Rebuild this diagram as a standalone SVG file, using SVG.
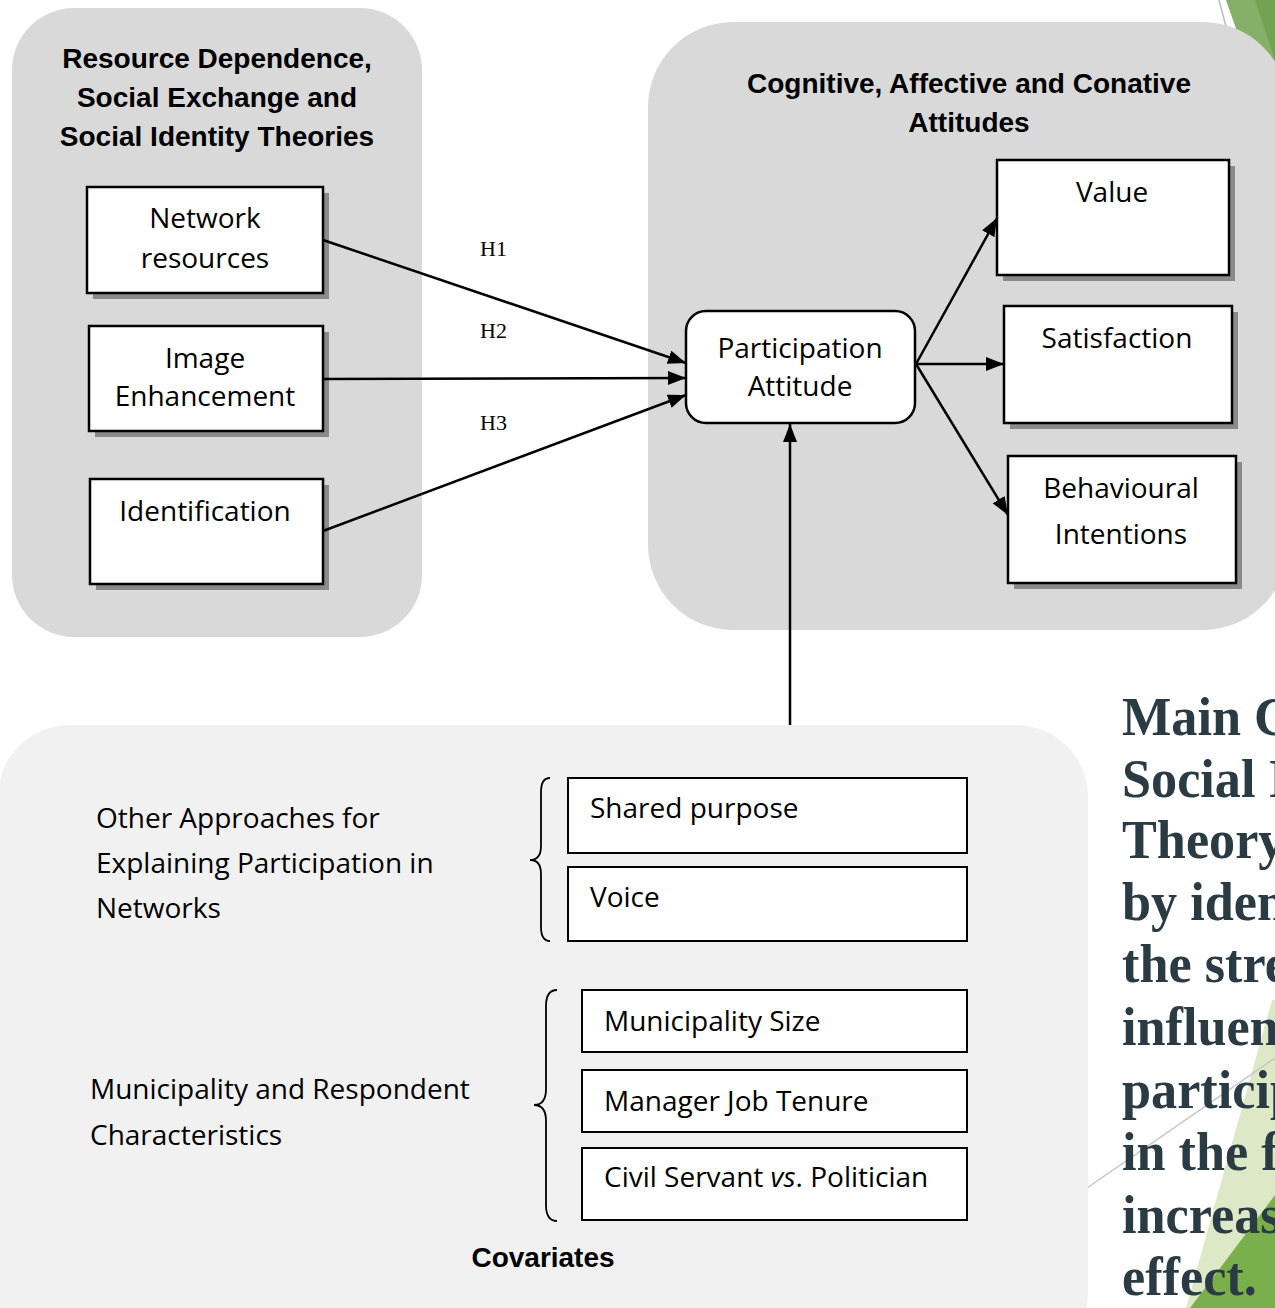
<svg xmlns="http://www.w3.org/2000/svg" width="1275" height="1308" viewBox="0 0 1275 1308">
  <style>
    .panel { fill: #d9d9d9; }
    .panel-light { fill: #f1f1f1; }
    .title { font-family: "Liberation Sans", Arial, sans-serif; font-weight: bold; font-size: 28px; fill: #000; text-anchor: middle; }
    .box { fill: #fff; stroke: #000; stroke-width: 2.5; }
    .shadow { fill: #8a8a8a; }
    .label { font-family: "Open Sans", "Liberation Sans", sans-serif; font-size: 28px; fill: #000; }
    .mid { text-anchor: middle; }
    .hyp { font-family: "Liberation Serif", "Times New Roman", serif; font-size: 22px; fill: #000; }
    .edge { stroke: #000; stroke-width: 2.5; fill: none; }
    .brace { stroke: #000; stroke-width: 1.8; fill: none; }
    .slide { font-family: "Liberation Serif", "Times New Roman", serif; font-weight: bold; font-size: 55px; fill: #2a3b44; }
  </style>
  <defs>
    <marker id="arrow" markerUnits="userSpaceOnUse" markerWidth="20" markerHeight="16" refX="18" refY="7" orient="auto">
      <path d="M0,0 L18,7 L0,14 Z" fill="#000"/>
    </marker>
  </defs>

  <rect width="1275" height="1308" fill="#fff"/>

  <!-- slide decoration, top right -->
  <g id="deco-top">
    <polygon points="1226,0 1275,0 1275,140" fill="#86b068"/>
    <polygon points="1255,0 1275,0 1275,60" fill="#73a352"/>
    <line x1="1219" y1="0" x2="1228" y2="34" stroke="#bdbdbd" stroke-width="1.5"/>
  </g>

  <!-- slide decoration, bottom right -->
  <g id="deco-bottom">
    <polygon points="1272,1000 1275,1000 1275,1308 1186,1308" fill="#dde9c6"/>
    <polygon points="1275,1195 1275,1308 1190,1308" fill="#7ab04b"/>
    <line x1="1087" y1="1188" x2="1275" y2="1058" stroke="#c4c4c4" stroke-width="1.5"/>
  </g>

  <!-- panels -->
  <g id="panel-theories">
    <rect class="panel" x="12" y="8" width="410" height="629" rx="62"/>
    <text class="title" x="217" y="68">Resource Dependence,</text>
    <text class="title" x="217" y="107">Social Exchange and</text>
    <text class="title" x="217" y="146">Social Identity Theories</text>
  </g>
  <g id="panel-attitudes">
    <rect class="panel" x="648" y="22" width="640" height="608" rx="85"/>
    <text class="title" x="969" y="93">Cognitive, Affective and Conative</text>
    <text class="title" x="969" y="132">Attitudes</text>
  </g>
  <g id="panel-covariates">
    <rect class="panel-light" x="-2" y="725" width="1090" height="640" rx="72"/>
    <text class="title" x="543" y="1267">Covariates</text>
  </g>

  <!-- theory nodes -->
  <g id="node-network">
    <rect class="shadow" x="93" y="193" width="236" height="106"/>
    <rect class="box" x="87" y="187" width="236" height="106"/>
    <text class="label mid" x="205" y="228">Network</text>
    <text class="label mid" x="205" y="268">resources</text>
  </g>
  <g id="node-image">
    <rect class="shadow" x="95" y="332" width="234" height="105"/>
    <rect class="box" x="89" y="326" width="234" height="105"/>
    <text class="label mid" x="205" y="368">Image</text>
    <text class="label mid" x="205" y="406">Enhancement</text>
  </g>
  <g id="node-identification">
    <rect class="shadow" x="96" y="485" width="233" height="105"/>
    <rect class="box" x="90" y="479" width="233" height="105"/>
    <text class="label mid" x="205" y="521">Identification</text>
  </g>

  <!-- attitude nodes -->
  <g id="node-participation">
    <rect class="box" x="686" y="311" width="229" height="112" rx="20"/>
    <text class="label mid" x="800" y="358">Participation</text>
    <text class="label mid" x="800" y="396">Attitude</text>
  </g>
  <g id="node-value">
    <rect class="shadow" x="1003" y="166" width="232" height="115"/>
    <rect class="box" x="997" y="160" width="232" height="115"/>
    <text class="label mid" x="1112" y="202">Value</text>
  </g>
  <g id="node-satisfaction">
    <rect class="shadow" x="1010" y="312" width="228" height="117"/>
    <rect class="box" x="1004" y="306" width="228" height="117"/>
    <text class="label mid" x="1117" y="348">Satisfaction</text>
  </g>
  <g id="node-behavioural">
    <rect class="shadow" x="1014" y="462" width="228" height="127"/>
    <rect class="box" x="1008" y="456" width="228" height="127"/>
    <text class="label mid" x="1121" y="498">Behavioural</text>
    <text class="label mid" x="1121" y="544">Intentions</text>
  </g>

  <!-- covariate nodes -->
  <g id="group-other-approaches">
    <text class="label" x="96" y="828">Other Approaches for</text>
    <text class="label" x="96" y="873">Explaining Participation in</text>
    <text class="label" x="96" y="918">Networks</text>
    <path class="brace" d="M550,778 Q541,778 541,792 L541,846 Q541,860 530,860 Q541,860 541,874 L541,927 Q541,941 550,941"/>
  </g>
  <g id="node-shared-purpose">
    <rect class="box" x="568" y="778" width="399" height="75" style="stroke-width:2"/>
    <text class="label" x="590" y="818">Shared purpose</text>
  </g>
  <g id="node-voice">
    <rect class="box" x="568" y="867" width="399" height="74" style="stroke-width:2"/>
    <text class="label" x="590" y="907">Voice</text>
  </g>
  <g id="group-municipality">
    <text class="label" x="90" y="1099">Municipality and Respondent</text>
    <text class="label" x="90" y="1145">Characteristics</text>
    <path class="brace" d="M557,990 Q546,990 546,1006 L546,1089 Q546,1105 534,1105 Q546,1105 546,1121 L546,1205 Q546,1221 557,1221"/>
  </g>
  <g id="node-municipality-size">
    <rect class="box" x="582" y="990" width="385" height="62" style="stroke-width:2"/>
    <text class="label" x="604" y="1031">Municipality Size</text>
  </g>
  <g id="node-job-tenure">
    <rect class="box" x="582" y="1070" width="385" height="62" style="stroke-width:2"/>
    <text class="label" x="604" y="1111">Manager Job Tenure</text>
  </g>
  <g id="node-civil-servant">
    <rect class="box" x="582" y="1148" width="385" height="72" style="stroke-width:2"/>
    <text class="label" x="604" y="1187">Civil Servant <tspan font-style="italic">vs</tspan>. Politician</text>
  </g>

  <!-- connectors -->
  <g id="connectors">
    <line class="edge" x1="323" y1="240" x2="686" y2="363" marker-end="url(#arrow)"/>
    <line class="edge" x1="323" y1="379" x2="686" y2="378" marker-end="url(#arrow)"/>
    <line class="edge" x1="323" y1="531" x2="686" y2="395" marker-end="url(#arrow)"/>
    <line class="edge" x1="916" y1="364" x2="997" y2="218" marker-end="url(#arrow)"/>
    <line class="edge" x1="916" y1="364" x2="1004" y2="364" marker-end="url(#arrow)"/>
    <line class="edge" x1="916" y1="364" x2="1008" y2="515" marker-end="url(#arrow)"/>
    <line class="edge" x1="790" y1="725" x2="790" y2="424" marker-end="url(#arrow)"/>
    <text class="hyp" x="480" y="256">H1</text>
    <text class="hyp" x="480" y="338">H2</text>
    <text class="hyp" x="480" y="430">H3</text>
  </g>

  <!-- slide text running off the right edge -->
  <g id="slide-text" transform="translate(1122,0) scale(0.95,1)">
    <text class="slide" x="0" y="735">Main C</text>
    <text class="slide" x="0" y="797">Social I</text>
    <text class="slide" x="0" y="858">Theory</text>
    <text class="slide" x="0" y="920">by iden</text>
    <text class="slide" x="0" y="982">the stre</text>
    <text class="slide" x="0" y="1045">influen</text>
    <text class="slide" x="0" y="1108">particip</text>
    <text class="slide" x="0" y="1170">in the f</text>
    <text class="slide" x="0" y="1233">increas</text>
    <text class="slide" x="0" y="1295">effect.</text>
  </g>
</svg>
